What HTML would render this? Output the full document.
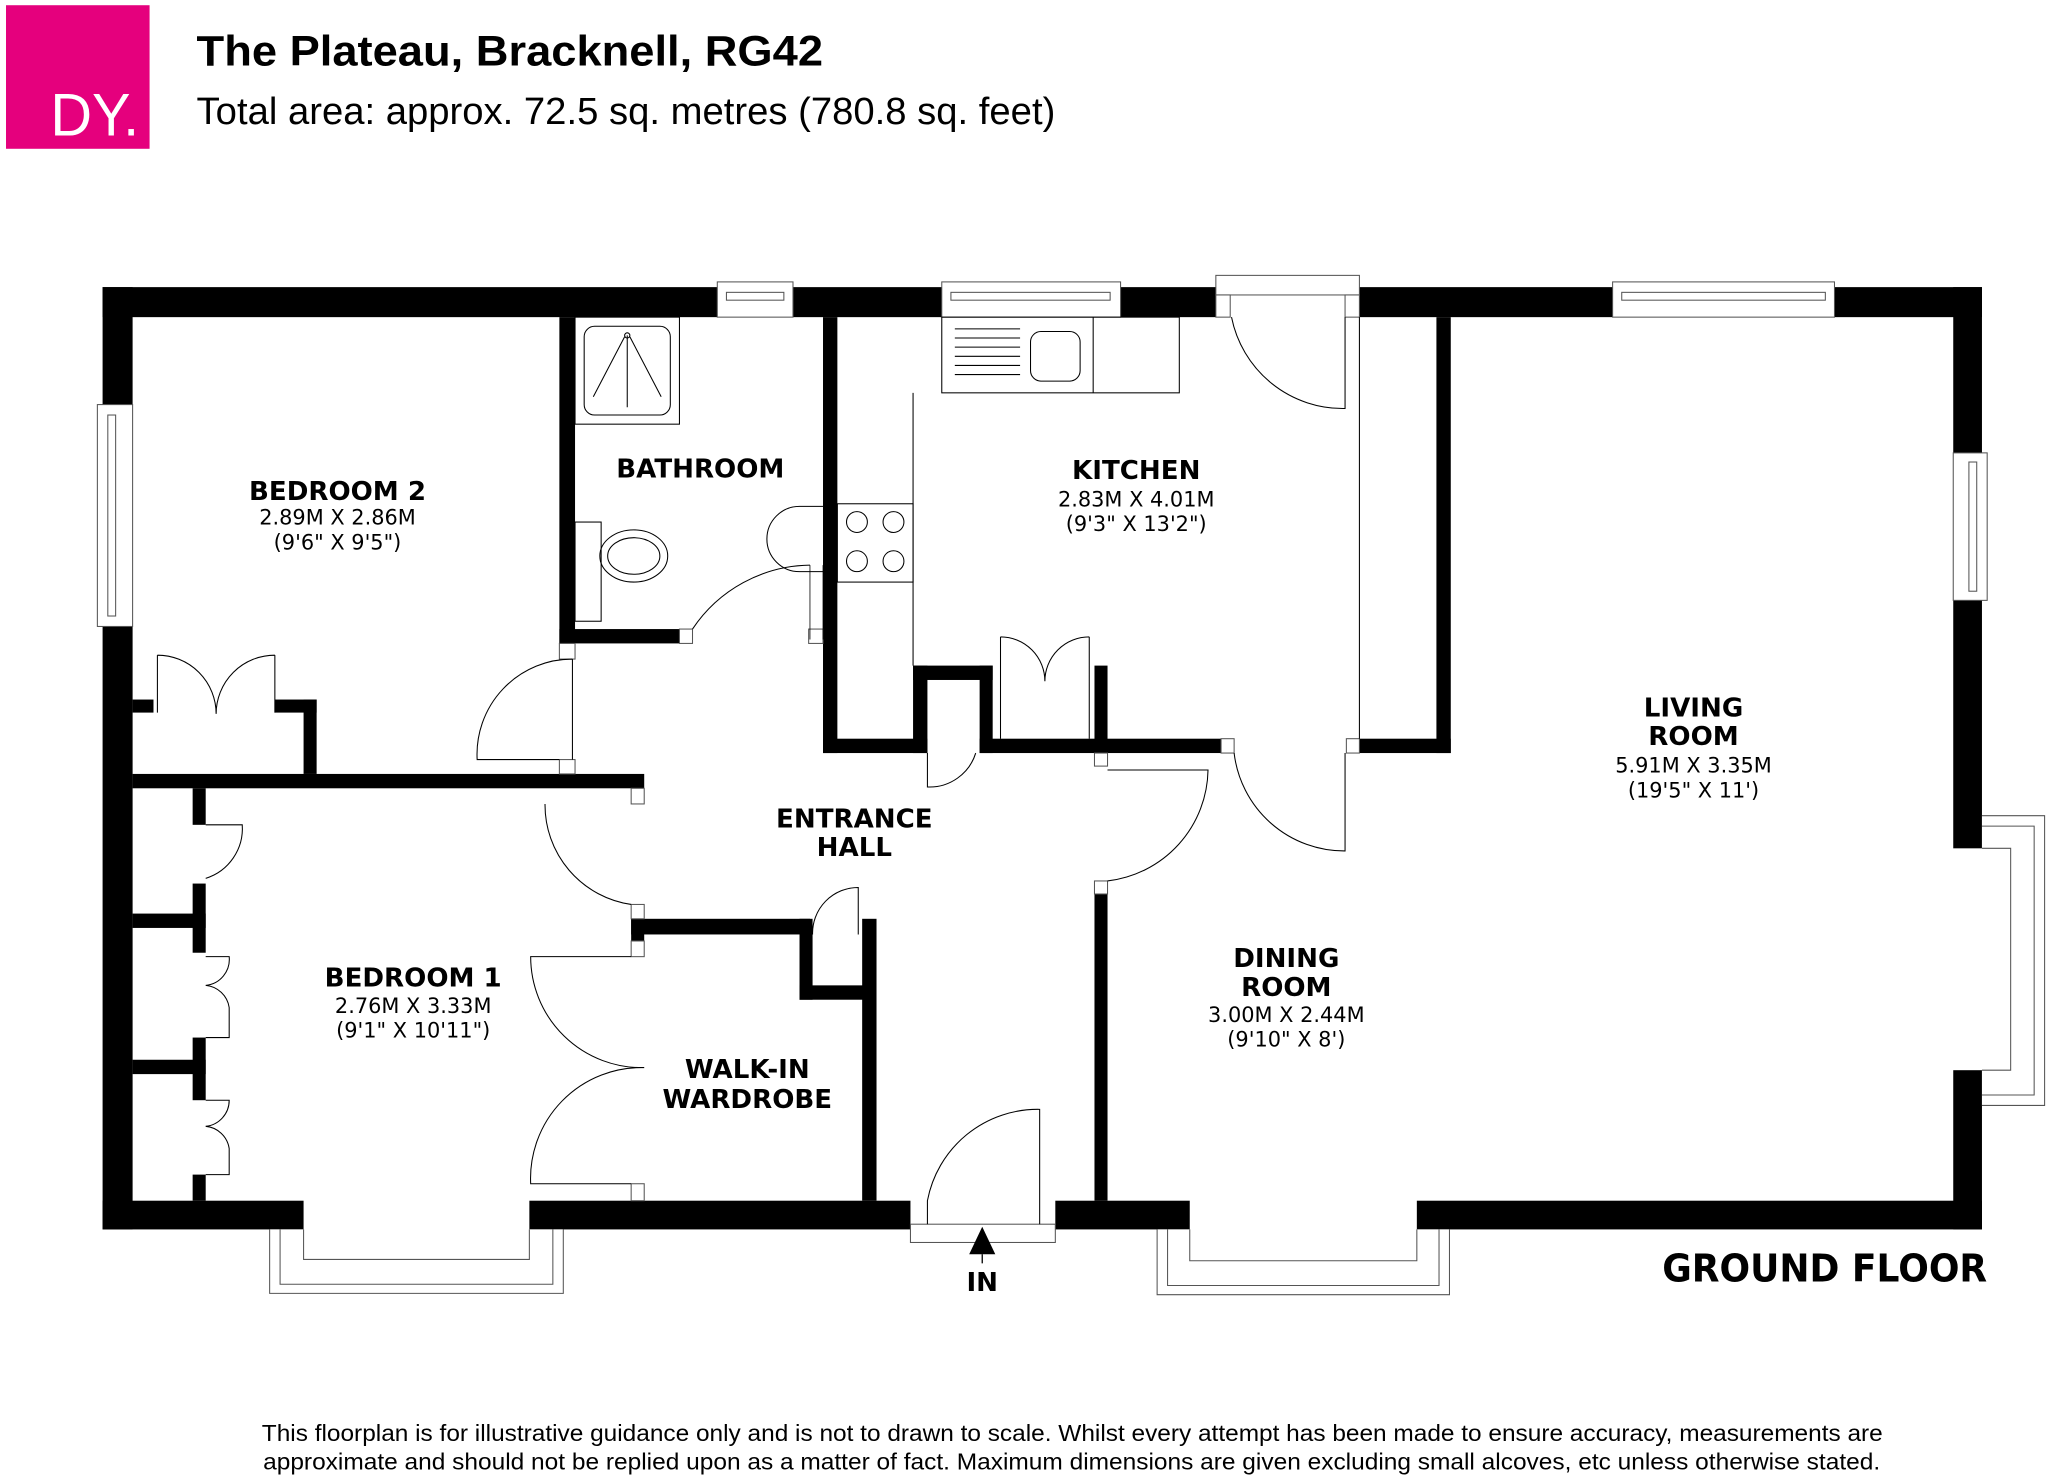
<!DOCTYPE html>
<html><head><meta charset="utf-8"><style>
html,body{margin:0;padding:0;background:#fff}
svg{display:block}
.t{font-family:"DejaVu Sans","Liberation Sans",sans-serif}
.lb{font-weight:bold;font-size:20px;text-anchor:middle;fill:#000}
.dm{font-size:16px;text-anchor:middle;fill:#000}
.ln{fill:none;stroke:#000;stroke-width:0.8}
.gl{fill:#fff;stroke:#555;stroke-width:0.8}
</style></head><body>
<svg width="2048" height="1480" viewBox="0 0 1568 1134" xmlns="http://www.w3.org/2000/svg">
<rect x="4" y="4" width="110" height="110" fill="#e5007d"/>
<text x="38" y="104" font-family="Liberation Sans,sans-serif" font-size="46" fill="#fff" textLength="68" lengthAdjust="spacingAndGlyphs">DY.</text>
<text x="150" y="50" font-family="Liberation Sans,sans-serif" font-size="33" font-weight="bold" textLength="480" lengthAdjust="spacingAndGlyphs">The Plateau, Bracknell, RG42</text>
<text x="150" y="95" font-family="Liberation Sans,sans-serif" font-size="29" textLength="658" lengthAdjust="spacingAndGlyphs">Total area: approx. 72.5 sq. metres (780.8 sq. feet)</text>

<g fill="#000">
<rect x="78" y="220" width="471" height="23"/>
<rect x="607" y="220" width="114" height="23"/>
<rect x="858" y="220" width="73" height="23"/>
<rect x="1041" y="220" width="194" height="23"/>
<rect x="1405" y="220" width="113" height="23"/>
<rect x="78" y="220" width="23" height="90"/>
<rect x="78" y="480" width="23" height="462"/>
<rect x="1496" y="220" width="22" height="127"/>
<rect x="1496" y="460" width="22" height="190"/>
<rect x="1496" y="820" width="22" height="122"/>
<rect x="78" y="920" width="154" height="22"/>
<rect x="405" y="920" width="292" height="22"/>
<rect x="808" y="920" width="103" height="22"/>
<rect x="1085" y="920" width="433" height="22"/>
<rect x="428" y="243" width="12" height="250"/>
<rect x="428" y="482" width="92" height="11"/>
<rect x="630" y="243" width="11" height="334"/>
<rect x="630" y="566" width="80" height="11"/>
<rect x="699" y="510" width="61" height="11"/>
<rect x="699" y="510" width="11" height="67"/>
<rect x="750" y="510" width="10" height="67"/>
<rect x="750" y="566" width="185" height="11"/>
<rect x="838" y="510" width="10" height="67"/>
<rect x="1100" y="243" width="11" height="334"/>
<rect x="1041" y="566" width="70" height="11"/>
<rect x="101" y="593" width="392" height="11"/>
<rect x="232" y="536" width="10" height="57"/>
<rect x="210" y="536" width="32" height="10"/>
<rect x="101" y="536" width="16" height="10"/>
<rect x="147" y="604" width="10" height="28"/>
<rect x="147" y="677" width="10" height="53"/>
<rect x="147" y="795" width="10" height="48"/>
<rect x="147" y="900" width="10" height="20"/>
<rect x="101" y="700" width="56" height="11"/>
<rect x="101" y="812" width="56" height="11"/>
<rect x="483" y="704" width="137" height="12"/>
<rect x="483" y="704" width="10" height="17"/>
<rect x="612" y="704" width="10" height="62"/>
<rect x="612" y="755" width="53" height="11"/>
<rect x="660" y="704" width="11" height="216"/>
<rect x="838" y="685" width="10" height="235"/>
</g>

<g class="gl">
<rect x="549" y="216" width="58" height="27"/><rect x="556" y="224" width="44" height="6"/>
<rect x="721" y="216" width="137" height="27"/><rect x="728" y="224" width="122" height="6"/>
<rect x="1235" y="216" width="170" height="27"/><rect x="1242" y="224" width="156" height="6"/>
<rect x="931" y="211" width="110" height="15"/>
<rect x="74" y="310" width="27" height="170"/><rect x="82" y="318" width="6" height="154"/>
<rect x="1496" y="347" width="26" height="113"/><rect x="1508" y="354" width="6" height="99"/>
<path d="M206 942 V991 H431 V942 M214 942 V984 H423 V942 M232 942 V965 H405 V942"/>
<path d="M886 942 V992 H1110 V942 M894 942 V985 H1102 V942 M911 942 V966 H1085 V942"/>
<path d="M1518 625 H1566 V847 H1518 M1518 633 H1558 V839 H1518 M1518 650 H1540 V820 H1518"/>
<rect x="697" y="938" width="111" height="14"/>
</g>
<rect x="428" y="493" width="12" height="12" class="gl"/>
<rect x="520" y="482" width="10" height="11" class="gl"/>
<rect x="619" y="482" width="11" height="11" class="gl"/>
<rect x="428" y="582" width="12" height="11" class="gl"/>
<rect x="483" y="604" width="10" height="12" class="gl"/>
<rect x="483" y="693" width="10" height="11" class="gl"/>
<rect x="483" y="721" width="10" height="12" class="gl"/>
<rect x="483" y="907" width="10" height="13" class="gl"/>
<rect x="935" y="566" width="10" height="11" class="gl"/>
<rect x="838" y="577" width="10" height="10" class="gl"/>
<rect x="838" y="675" width="10" height="10" class="gl"/>
<rect x="1031" y="566" width="10" height="11" class="gl"/>
<rect x="931" y="226" width="11" height="17" class="gl"/>
<rect x="1030" y="226" width="11" height="17" class="gl"/>

<g class="ln">
<rect x="440" y="243" width="80" height="82"/>
<rect x="447" y="250" width="66" height="68" rx="8"/>
<path d="M480 257 V312 M478 258 L454 304 M482 258 L506 304"/>
<circle cx="480" cy="257" r="2"/>
<rect x="440" y="400" width="20" height="76"/>
<ellipse cx="485" cy="426" rx="26" ry="20"/><ellipse cx="485" cy="426" rx="20" ry="14"/>
<path d="M630 388 H612 A24 24 0 0 0 612 438 H630"/>
<path d="M620 433 V490 M630 433 V490" stroke-width="0.6"/>
<path d="M620 433 A110 110 0 0 0 530 482"/>
<rect x="721" y="243" width="182" height="58"/>
<path d="M837 243 V301 M699 301 V510"/>
<path d="M731 252 H781 M731 259 H781 M731 266 H781 M731 273 H781 M731 280 H781 M731 287 H781"/>
<rect x="789" y="254" width="38" height="38" rx="8"/>
<rect x="641" y="386" width="58" height="60"/>
<circle cx="656" cy="400" r="8"/><circle cx="684" cy="400" r="8"/><circle cx="656" cy="430" r="8"/><circle cx="684" cy="430" r="8"/>
<path d="M1030 243 V313 A87 87 0 0 1 943 243"/>
<path d="M1041 243 V566"/>
<path d="M766 488 V566 M834 488 V566 M766 488 A34 34 0 0 1 800 522 M834 488 A34 34 0 0 0 800 522"/>
<path d="M120 502 V546 M210 502 V546 M120 502 A45 45 0 0 1 165 547 M210 502 A45 45 0 0 0 165 547"/>
<path d="M438 505 V582 M438 505 A73 73 0 0 0 365 582 H428"/>
<path d="M417 616 A77 77 0 0 0 483 693"/>
<path d="M157 632 H185 A40 40 0 0 1 157 673"/>
<path d="M157 733 H175 A20 20 0 0 1 157 755 A20 20 0 0 1 175 772 V795 H157"/>
<path d="M157 843 H175 A20 20 0 0 1 157 863 A20 20 0 0 1 175 880 V900 H157"/>
<path d="M483 733 H406 A85 85 0 0 0 493 818 M483 907 H406 A85 85 0 0 1 493 818"/>
<path d="M622 716 A35 35 0 0 1 657 680 V716"/>
<path d="M710 577 V603 A37 37 0 0 0 747 577"/>
<path d="M945 577 A85 85 0 0 0 1030 652 V577"/>
<path d="M848 675 A87 87 0 0 0 925 590 H848"/>
<path d="M710 938 V920 A86 86 0 0 1 796 850 V938"/>
</g>
<path d="M742 961 L752 940 L762 961 Z" fill="#000"/>
<path d="M752 961 V968" stroke="#000"/>

<g class="t">
<text class="lb" x="258" y="383">BEDROOM 2</text>
<text class="dm" x="258" y="402">2.89M X 2.86M</text>
<text class="dm" x="258" y="421">(9'6" X 9'5")</text>
<text class="lb" x="536" y="366">BATHROOM</text>
<text class="lb" x="870" y="367">KITCHEN</text>
<text class="dm" x="870" y="388">2.83M X 4.01M</text>
<text class="dm" x="870" y="407">(9'3" X 13'2")</text>
<text class="lb" x="1297" y="549">LIVING</text>
<text class="lb" x="1297" y="571">ROOM</text>
<text class="dm" x="1297" y="592">5.91M X 3.35M</text>
<text class="dm" x="1297" y="611">(19'5" X 11')</text>
<text class="lb" x="654" y="634">ENTRANCE</text>
<text class="lb" x="654" y="656">HALL</text>
<text class="lb" x="316" y="756">BEDROOM 1</text>
<text class="dm" x="316" y="776">2.76M X 3.33M</text>
<text class="dm" x="316" y="795">(9'1" X 10'11")</text>
<text class="lb" x="985" y="741">DINING</text>
<text class="lb" x="985" y="763">ROOM</text>
<text class="dm" x="985" y="783">3.00M X 2.44M</text>
<text class="dm" x="985" y="802">(9'10" X 8')</text>
<text class="lb" x="572" y="826">WALK-IN</text>
<text class="lb" x="572" y="849">WARDROBE</text>
<text class="lb" x="752" y="989" font-size="17">IN</text>
<text x="1273" y="982" font-weight="bold" font-size="29" textLength="249" lengthAdjust="spacingAndGlyphs">GROUND FLOOR</text>
</g>
<text x="200" y="1104" font-family="Liberation Sans,sans-serif" font-size="18" textLength="1242" lengthAdjust="spacingAndGlyphs">This floorplan is for illustrative guidance only and is not to drawn to scale. Whilst every attempt has been made to ensure accuracy, measurements are</text>
<text x="201" y="1126" font-family="Liberation Sans,sans-serif" font-size="18" textLength="1239" lengthAdjust="spacingAndGlyphs">approximate and should not be replied upon as a matter of fact. Maximum dimensions are given excluding small alcoves, etc unless otherwise stated.</text>
</svg>
</body></html>
